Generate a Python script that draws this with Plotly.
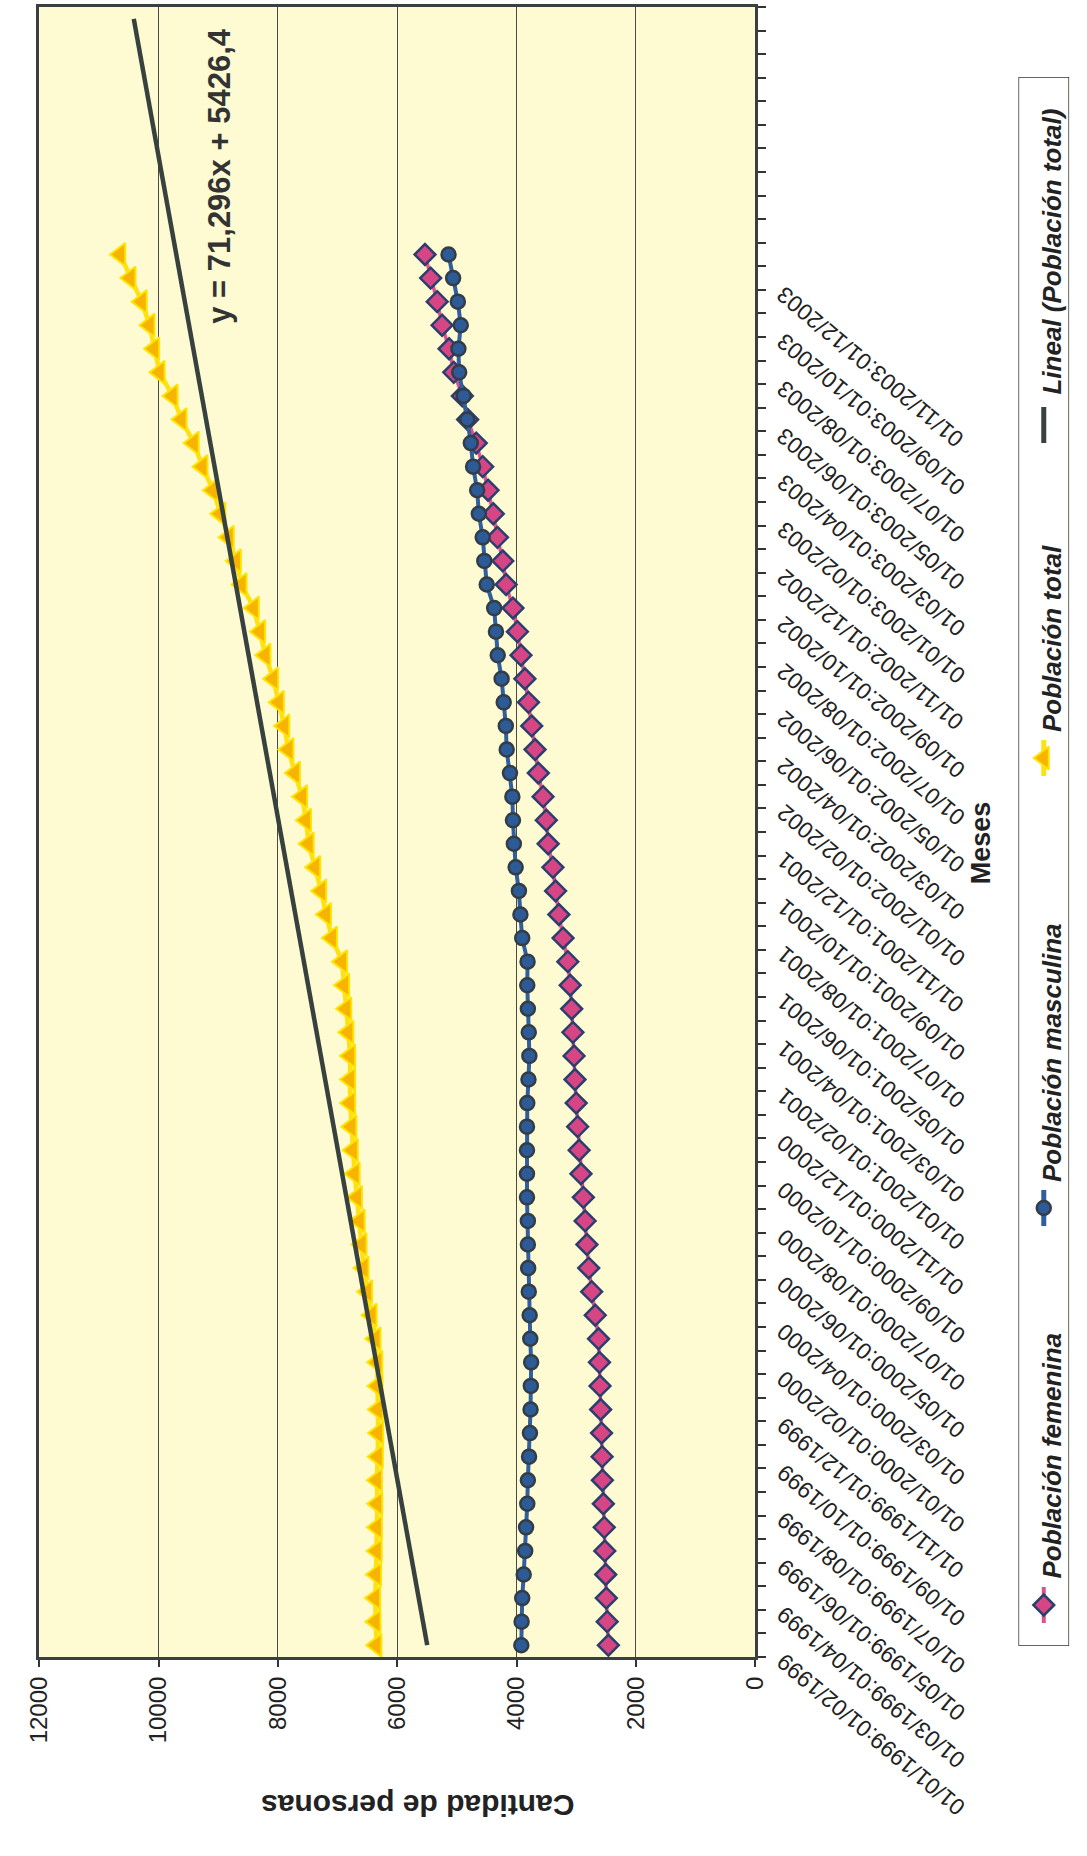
import numpy as np
import plotly.graph_objects as go

W, H = 1087, 1856

# ---- data -----------------------------------------------------------------
# monthly index, Jan 1999 .. Dec 2003
meses_idx = list(range(1, 61))

poblacion_femenina = [
    2460, 2480, 2495, 2505, 2520, 2530, 2545, 2560, 2565, 2575,
    2590, 2600, 2610, 2625, 2680, 2740, 2790, 2820, 2850, 2880,
    2920, 2950, 2975, 3000, 3020, 3035, 3055, 3075, 3100, 3140,
    3220, 3290, 3345, 3390, 3470, 3500, 3555, 3635, 3690, 3745,
    3800, 3860, 3925, 3985, 4060, 4175, 4230, 4320, 4390, 4477,
    4567, 4676, 4820, 4908, 5052, 5131, 5248, 5330, 5440, 5535,
]

poblacion_masculina = [
    3920, 3915, 3905, 3880, 3855, 3840, 3820, 3810, 3790, 3775,
    3765, 3760, 3755, 3770, 3780, 3795, 3805, 3810, 3810, 3825,
    3825, 3825, 3825, 3820, 3800, 3785, 3795, 3810, 3820, 3815,
    3905, 3935, 3960, 4015, 4045, 4060, 4070, 4110, 4165, 4180,
    4215, 4250, 4315, 4345, 4375, 4500, 4540, 4567, 4632, 4660,
    4728, 4766, 4826, 4888, 4962, 4975, 4935, 4984, 5063, 5140,
]

poblacion_total = [
    6350, 6365, 6370, 6355, 6345, 6340, 6335, 6340, 6325, 6320,
    6325, 6330, 6335, 6365, 6430, 6505, 6565, 6600, 6630, 6675,
    6715, 6745, 6770, 6790, 6790, 6790, 6820, 6855, 6890, 6925,
    7095, 7195, 7275, 7375, 7485, 7530, 7595, 7715, 7825, 7895,
    7985, 8080, 8210, 8300, 8405, 8610, 8705, 8825, 8965, 9090,
    9265, 9412, 9616, 9766, 9984, 10076, 10153, 10284, 10473, 10645,
]

# linear trend of the total population, projected 10 periods ahead
pendiente, ordenada = 71.296, 5426.4
periodos_tendencia = list(range(1, 71))

# category labels, one every two months
anios = [1999, 2000, 2001, 2002, 2003]
etiquetas_meses = [
    f"01/{m:02d}/{a}:01/{m + 1:02d}/{a}" for a in anios for m in range(1, 13, 2)
]
posiciones_etiquetas = list(range(1, 61, 2))

valores_eje = [0, 2000, 4000, 6000, 8000, 10000, 12000]
textos_eje = ["0", "2000", "4000", "6000", "8000", "10000", "12000"]

# ---- geometry (pixels) ----------------------------------------------------
PLOT_L, PLOT_R, PLOT_T, PLOT_B = 26, 760, 7, 1657
LEG_L, LEG_R, LEG_T, LEG_B = 1030, 1082, 77, 1646


def fx(x):
    return x / W


def fy(y):
    return 1 - y / H


FONT = "Liberation Sans, Arial, sans-serif"
TXT = "#222222"

C_FEM_LINE, C_FEM_FILL, C_FEM_EDGE = "#E0508E", "#D64684", "#2B3F6E"
C_MAS_LINE, C_MAS_FILL, C_MAS_EDGE = "#2F5F9F", "#2C5B97", "#333D48"
C_TOT_LINE, C_TOT_FILL, C_TOT_EDGE = "#FFE014", "#F6B400", "#FFE400"
C_TREND = "#37423F"

fig = go.Figure()

fig.add_trace(go.Scatter(
    x=poblacion_femenina, y=meses_idx, mode="lines+markers",
    line=dict(color=C_FEM_LINE, width=3.5),
    marker=dict(symbol="diamond", size=16, color=C_FEM_FILL,
                line=dict(color=C_FEM_EDGE, width=2.5)),
    name="Población femenina", xaxis="x", yaxis="y"))

fig.add_trace(go.Scatter(
    x=poblacion_masculina, y=meses_idx, mode="lines+markers",
    line=dict(color=C_MAS_LINE, width=4),
    marker=dict(symbol="circle", size=14, color=C_MAS_FILL,
                line=dict(color=C_MAS_EDGE, width=2.5)),
    name="Población masculina", xaxis="x", yaxis="y"))

fig.add_trace(go.Scatter(
    x=poblacion_total, y=meses_idx, mode="lines+markers",
    line=dict(color=C_TOT_LINE, width=4.5),
    marker=dict(symbol="triangle-left", size=20, color=C_TOT_FILL,
                line=dict(color=C_TOT_EDGE, width=2)),
    name="Población total", xaxis="x", yaxis="y"))

tendencia = pendiente * np.array(periodos_tendencia) + ordenada
fig.add_trace(go.Scatter(
    x=tendencia, y=periodos_tendencia, mode="lines",
    line=dict(color=C_TREND, width=4.5),
    name="Lineal (Población total)", xaxis="x", yaxis="y"))

# ---- legend drawn on its own pixel-scaled axes (rotated layout) ------------
leg_x = (LEG_L + LEG_R) / 2
leg_items = [
    # (center y, line colour, width, symbol, fill, edge, size, label, text bottom)
    (1605, C_FEM_LINE, 4, "diamond", C_FEM_FILL, C_FEM_EDGE, 16, "Población femenina", 1581),
    (1208, C_MAS_LINE, 5, "circle", C_MAS_FILL, C_MAS_EDGE, 14, "Población masculina", 1184),
    (758, C_TOT_LINE, 5, "triangle-left", C_TOT_FILL, C_TOT_EDGE, 20, "Población total", 734),
    (425, C_TREND, 5, None, None, None, 0, "Lineal (Población total)", 397),
]
annotations = []
for cy, lc, lw, sym, fill, edge, size, label, tb in leg_items:
    fig.add_trace(go.Scatter(
        x=[leg_x, leg_x], y=[cy - 18, cy + 18], mode="lines",
        line=dict(color=lc, width=lw), xaxis="x2", yaxis="y2",
        hoverinfo="skip"))
    if sym:
        fig.add_trace(go.Scatter(
            x=[leg_x], y=[cy], mode="markers",
            marker=dict(symbol=sym, size=size, color=fill,
                        line=dict(color=edge, width=2.5 if sym != "triangle-left" else 2)),
            xaxis="x2", yaxis="y2", hoverinfo="skip"))
    annotations.append(dict(
        text=f"<b><i>{label}</i></b>", textangle=-90,
        xref="paper", yref="paper", x=fx(leg_x + 8), y=fy(tb),
        xanchor="center", yanchor="bottom", showarrow=False,
        font=dict(family=FONT, size=26, color=TXT)))

# category tick labels (rotated)
for k, lab in zip(posiciones_etiquetas, etiquetas_meses):
    annotations.append(dict(
        text=lab, textangle=-140,
        xref="paper", yref="y", x=fx(PLOT_R + 14), y=k,
        xanchor="left", yanchor="top", showarrow=False,
        font=dict(family=FONT, size=23, color=TXT)))

# trend equation
annotations.append(dict(
    text="<b>y = 71,296x + 5426,4</b>", textangle=-90,
    xref="paper", yref="paper", x=fx(210), y=fy(176),
    xanchor="center", yanchor="middle", showarrow=False,
    font=dict(family=FONT, size=31, color="#333333")))

# axis titles
annotations.append(dict(
    text="<b>Cantidad de personas</b>", textangle=180,
    xref="paper", yref="paper", x=fx(414), y=fy(1806),
    xanchor="center", yanchor="middle", showarrow=False,
    font=dict(family=FONT, size=30, color=TXT)))
annotations.append(dict(
    text="<b>Meses</b>", textangle=-90,
    xref="paper", yref="paper", x=fx(992), y=fy(843),
    xanchor="center", yanchor="middle", showarrow=False,
    font=dict(family=FONT, size=27, color=TXT)))

fig.update_layout(
    width=W, height=H,
    margin=dict(l=0, r=0, t=0, b=0),
    paper_bgcolor="white",
    plot_bgcolor="#FEFAD2",
    showlegend=False,
    font=dict(family=FONT, color=TXT),
    xaxis=dict(
        domain=[fx(PLOT_L), fx(PLOT_R)], anchor="y",
        range=[12000, 0], tickvals=valores_eje, ticktext=textos_eje,
        ticks="outside", ticklen=7, tickwidth=1.5, tickcolor="#333",
        tickangle=-90, tickfont=dict(family=FONT, size=24, color=TXT),
        showgrid=True, gridcolor="#4A4A4A", gridwidth=1.2,
        showline=True, linecolor="#3A3F3F", linewidth=3, mirror=True,
        zeroline=False, fixedrange=True,
    ),
    yaxis=dict(
        domain=[fy(PLOT_B), fy(PLOT_T)], anchor="x", side="right",
        range=[0.5, 70.5], tickvals=[n + 0.5 for n in range(71)],
        showticklabels=False,
        ticks="outside", ticklen=8, tickwidth=1.5, tickcolor="#333",
        showgrid=False, zeroline=False,
        showline=True, linecolor="#3A3F3F", linewidth=3, mirror=True,
        fixedrange=True,
    ),
    xaxis2=dict(domain=[fx(LEG_L), fx(LEG_R)], anchor="y2",
                range=[LEG_L, LEG_R], visible=False, fixedrange=True),
    yaxis2=dict(domain=[fy(LEG_B), fy(LEG_T)], anchor="x2",
                range=[LEG_B, LEG_T], visible=False, fixedrange=True),
    shapes=[dict(type="rect", xref="x2", yref="y2",
                 x0=LEG_L, x1=LEG_R, y0=LEG_T, y1=LEG_B,
                 line=dict(color="#333", width=1.5),
                 fillcolor="white", layer="below")],
    annotations=annotations,
)

fig.write_html("out.html")
